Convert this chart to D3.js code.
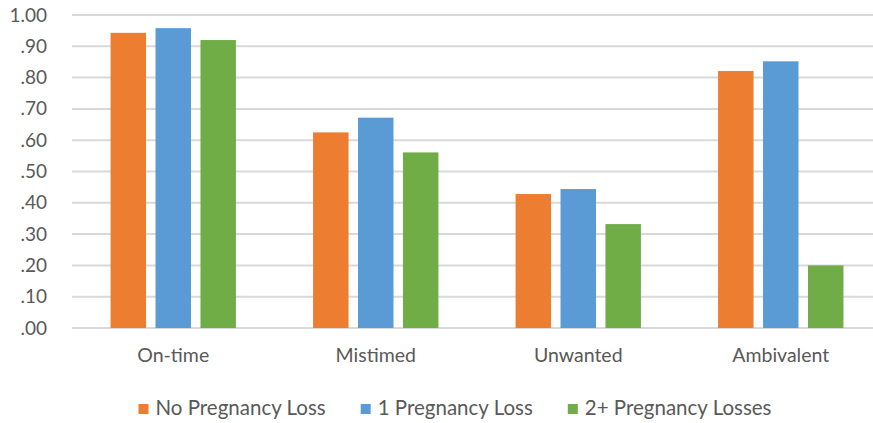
<!DOCTYPE html>
<html>
<head>
<meta charset="utf-8">
<script src="https://cdn.jsdelivr.net/npm/d3@7"></script>
<style>
  body { margin: 0; background: #fff; }
  text { font-family: Lato, "Open Sans", sans-serif; fill: #595959; }
</style>
</head>
<body>
<div id="bar-chart"></div>
<script>
// Chart data
const categories = ["On-time", "Mistimed", "Unwanted", "Ambivalent"];
const seriesNames = ["No Pregnancy Loss", "1 Pregnancy Loss", "2+ Pregnancy Losses"];
const noLoss = [0.943, 0.625, 0.428, 0.821];
const oneLoss = [0.958, 0.672, 0.444, 0.852];
const twoPlusLoss = [0.920, 0.561, 0.332, 0.200];
const tickValues = [0, 0.1, 0.2, 0.3, 0.4, 0.5, 0.6, 0.7, 0.8, 0.9, 1.0];
const colors = ["#ED7D31", "#5B9BD5", "#70AD47"];

const seriesValues = [noLoss, oneLoss, twoPlusLoss];
const data = categories.map((c, i) => ({
    category: c,
    values: seriesNames.map((s, j) => ({ series: s, value: seriesValues[j][i] }))
}));

const width = 873, height = 423;
const margin = {top: 15, right: -9, bottom: 95, left: 72};
const innerW = width - margin.left - margin.right;
const innerH = height - margin.top - margin.bottom;

const svg = d3.select("#bar-chart").append("svg")
    .attr("width", width)
    .attr("height", height);

const g = svg.append("g")
    .attr("transform", `translate(${margin.left},${margin.top})`);

// Scales
const x0 = d3.scaleBand().domain(categories).range([0, innerW]).padding(0);
const x1 = d3.scaleBand().domain(seriesNames).range([0, x0.bandwidth()])
    .paddingInner(0.211).paddingOuter(0.858);
const y = d3.scaleLinear().domain([0, 1]).range([innerH, 0]);

// Gridlines
g.append("g")
    .selectAll("line")
    .data(tickValues)
  .enter().append("line")
    .attr("x1", 0)
    .attr("x2", innerW)
    .attr("y1", d => y(d))
    .attr("y2", d => y(d))
    .attr("stroke", "#d9d9d9")
    .attr("stroke-width", 2);

// Y axis labels
const yAxis = g.append("g")
    .call(d3.axisLeft(y).tickValues(tickValues).tickSize(0).tickPadding(25)
        .tickFormat(d => d3.format(".2f")(d).replace(/^0/, "")));
yAxis.select(".domain").remove();
yAxis.selectAll("text")
    .style("font-size", "19px")
    .attr("fill", "#595959");

// Bars
const groups = g.selectAll(".group")
    .data(data)
  .enter().append("g")
    .attr("class", "group")
    .attr("transform", d => `translate(${x0(d.category)},0)`);

groups.selectAll("rect")
    .data(d => d.values)
  .enter().append("rect")
    .attr("x", d => x1(d.series))
    .attr("width", x1.bandwidth())
    .attr("y", d => y(d.value))
    .attr("height", d => innerH - y(d.value))
    .attr("fill", (d, i) => colors[i]);

// X axis labels
const xAxis = g.append("g")
    .attr("transform", `translate(0,${innerH})`)
    .call(d3.axisBottom(x0).tickSize(0).tickPadding(20));
xAxis.select(".domain").remove();
xAxis.selectAll("text")
    .style("font-size", "19.5px")
    .attr("fill", "#595959");

// Legend
const legend = svg.append("g");
const items = legend.selectAll(".item")
    .data(seriesNames)
  .enter().append("g")
    .attr("class", "item");
items.append("rect")
    .attr("width", 10)
    .attr("height", 10)
    .attr("y", -11)
    .attr("fill", (d, i) => colors[i]);
items.append("text")
    .attr("x", 17)
    .attr("y", 0)
    .style("font-size", "20.5px")
    .text(d => d);

// lay out legend items side by side, centred near x=455
const gap = 35;
const widths = [];
items.each(function() {
    widths.push(17 + this.querySelector("text").getComputedTextLength());
});
const total = d3.sum(widths) + gap * (widths.length - 1);
let offset = 455 - total / 2;
items.attr("transform", (d, i) => {
    const t = `translate(${offset},415)`;
    offset += widths[i] + gap;
    return t;
});
</script>
</body>
</html>
